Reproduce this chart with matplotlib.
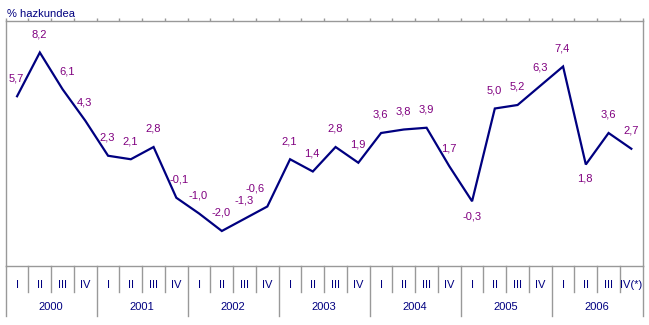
import matplotlib
matplotlib.use("Agg")
import matplotlib.pyplot as plt

# datos: tasa de crecimiento trimestral
years = ["2000", "2001", "2002", "2003", "2004", "2005", "2006"]
quarters = ["I", "II", "III", "IV"] * 6 + ["I", "II", "III", "IV(*)"]
values = [5.7, 8.2, 6.1, 4.3,
          2.3, 2.1, 2.8, -0.1,
          -1.0, -2.0, -1.3, -0.6,
          2.1, 1.4, 2.8, 1.9,
          3.6, 3.8, 3.9, 1.7,
          -0.3, 5.0, 5.2, 6.3,
          7.4, 1.8, 3.6, 2.7]

LINE = "#000080"
LABEL = "#800080"
GRID = "#999999"
FONT = "Liberation Sans"

# desplazamiento especial de algunas etiquetas (en puntos)
label_shift = {2: (3, 13), 7: (2, 13), 11: (-9, 13), 20: (0, -11), 25: (-1, -10)}

W, H = 649, 325
fig = plt.figure(figsize=(W / 100, H / 100), dpi=100)
x0, x1 = 5.7, 642.7
y_top, y_bot = 21, 266
ax = fig.add_axes([x0 / W, 1 - y_bot / H, (x1 - x0) / W, (y_bot - y_top) / H])

n = len(values)
xs = [i + 0.5 for i in range(n)]
ax.plot(xs, values, color=LINE, lw=1.6, solid_joinstyle="miter")

for i, v in enumerate(values):
    dx, dy = label_shift.get(i, (-0.5, 13))
    ax.annotate(f"{v:.1f}".replace(".", ","), (xs[i], v), xytext=(dx, dy),
                textcoords="offset points", ha="center", va="center",
                color=LABEL, fontsize=8, family=FONT)

ax.set_xlim(0, n)
ax.set_ylim(-4, 10)
ax.set_yticks([])
ax.xaxis.tick_top()
ax.set_xticks(range(n + 1))
ax.set_xticklabels([])
ax.tick_params(axis="x", top=True, length=2, width=1, color=GRID, direction="out")
for s in ax.spines.values():
    s.set_color(GRID)
    s.set_linewidth(1)

# eje de categorias de dos niveles
px = 1 / (y_bot - y_top)
q_bot = -(292 - y_bot) * px
y_bottom = -(316 - y_bot) * px
tr = ax.get_xaxis_transform()
for i in range(n + 1):
    yb = y_bottom if i % 4 == 0 else q_bot
    ax.plot([i, i], [0, yb], transform=tr, color=GRID, lw=1, clip_on=False)
for i, q in enumerate(quarters):
    ax.text(i + 0.5, -(285 - y_bot) * px, q, transform=tr, ha="center", va="center",
            color=LINE, fontsize=8, family=FONT)
for j, yr in enumerate(years):
    ax.text(j * 4 + 2, -(307.5 - y_bot) * px, yr, transform=tr, ha="center", va="center",
            color=LINE, fontsize=8, family=FONT)

fig.text(7 / W, 1 - 14 / H, "% hazkundea", ha="left", va="center",
         color=LINE, fontsize=8, family=FONT)

fig.savefig("out.png", dpi=100)
